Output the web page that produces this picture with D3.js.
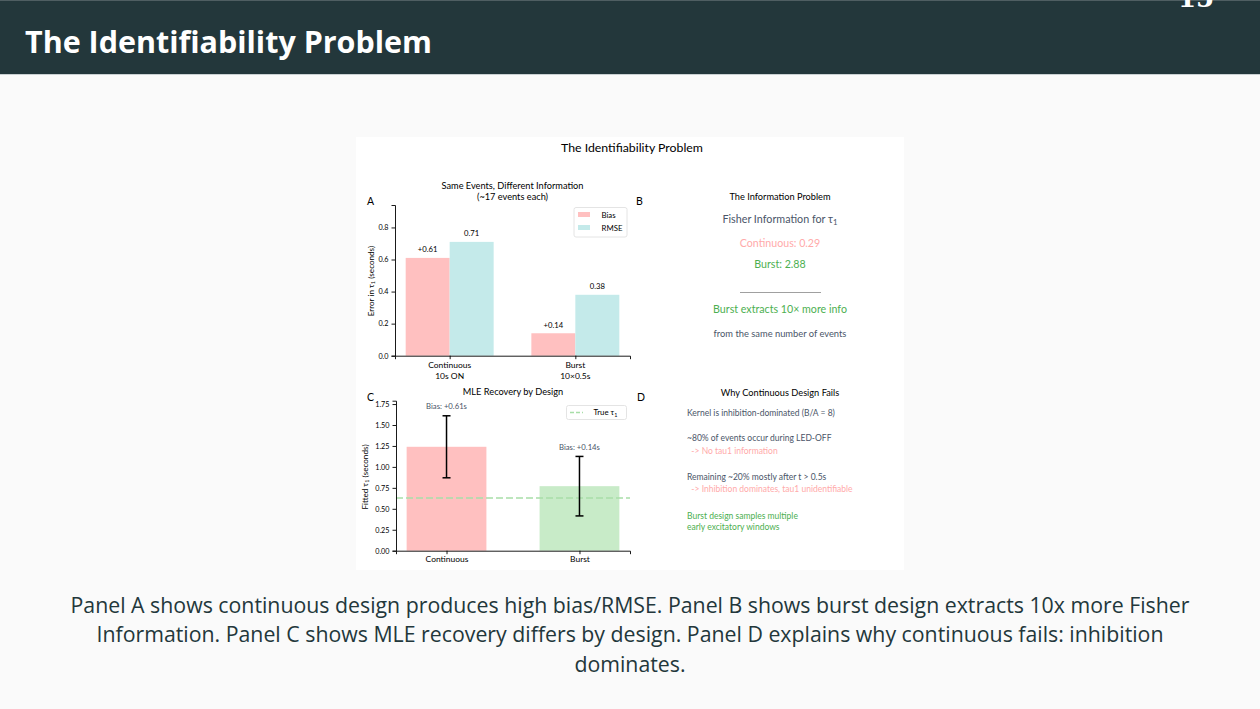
<!DOCTYPE html>
<html><head><meta charset="utf-8">
<script src="https://cdn.jsdelivr.net/npm/d3@7"></script>
<style>
html,body{margin:0;padding:0;background:#fafafa;}
svg{display:block;}
</style></head>
<body>
<svg id="c" width="1260" height="709"></svg>
<script>
// ---------------- data ----------------
const slideTitle = "The Identifiability Problem";
const pageNumber = "15";
const captionLines = [
  "Panel A shows continuous design produces high bias/RMSE. Panel B shows burst design extracts 10x more Fisher",
  "Information. Panel C shows MLE recovery differs by design. Panel D explains why continuous fails: inhibition",
  "dominates."
];
const figTitle = "The Identifiability Problem";

// Panel A
const categoriesA = [["Continuous", "10s ON"], ["Burst", "10×0.5s"]];
const biasValues = [0.61, 0.14];
const rmseValues = [0.71, 0.38];
const yTicksA = [0.0, 0.2, 0.4, 0.6, 0.8];
const seriesA = ["Bias", "RMSE"];

// Panel B
const fisherLabels = ["Continuous", "Burst"];
const fisherValues = [0.29, 2.88];

// Panel C
const categoriesC = ["Continuous", "Burst"];
const fittedMeans = [1.24, 0.77];
const fittedSD = [0.37, 0.355];
const trueTau = 0.63;
const yTicksC = [0.00, 0.25, 0.50, 0.75, 1.00, 1.25, 1.50, 1.75];

// Panel D
const reasonLines = [
  {t: "Kernel is inhibition-dominated (B/A = 8)", k: "text"},
  {t: "~80% of events occur during LED-OFF", k: "text"},
  {t: "  -> No tau1 information", k: "bad"},
  {t: "Remaining ~20% mostly after t > 0.5s", k: "text"},
  {t: "  -> Inhibition dominates, tau1 unidentifiable", k: "bad"},
  {t: "Burst design samples multiple", k: "good"},
  {t: "early excitatory windows", k: "good"}
];

// ---------------- styles ----------------
const C = {
  header: "#23373b", slideText: "#23373b", bg: "#fafafa",
  bias: "#ffc0c0", rmse: "#c4eaea", burst: "#c8ebc8", trueLine: "#a8dea8",
  textGray: "#4a5568", bad: "#ffaaaa", good: "#4caf50"
};
const FIG_FONT = "Lato, 'Open Sans', sans-serif";
const SLIDE_FONT = "'Open Sans', Lato, sans-serif";

const svg = d3.select("#c");

function fitWidth(sel, w) {
  const n = sel.node();
  const fs = parseFloat(sel.attr("font-size"));
  const cur = n.getComputedTextLength();
  if (cur > 0) sel.attr("font-size", fs * w / cur);
  return parseFloat(sel.attr("font-size"));
}
// measure font size needed for a string to reach width w
const meas = svg.append("text").attr("x", -1000).attr("y", -1000).attr("font-family", FIG_FONT);
function sizeFor(str, w, base) {
  meas.attr("font-size", base).text(str);
  const cur = meas.node().getComputedTextLength();
  return cur > 0 ? base * w / cur : base;
}

// ---------------- slide ----------------
svg.append("rect").attr("x", 0).attr("y", 0).attr("width", 1260).attr("height", 709).attr("fill", C.bg);
svg.append("rect").attr("x", 0).attr("y", 0).attr("width", 1260).attr("height", 75).attr("fill", C.header);
svg.append("rect").attr("x", 0).attr("y", 0).attr("width", 1260).attr("height", 1).attr("fill", "#4f5e62");
svg.append("rect").attr("x", 0).attr("y", 74).attr("width", 1260).attr("height", 1).attr("fill", "#c9d0d2");

const ht = svg.append("text").attr("x", 25).attr("y", 53).attr("fill", "#ffffff")
  .attr("font-family", SLIDE_FONT).attr("font-weight", 700).attr("font-size", 30).text(slideTitle);
fitWidth(ht, 407);

svg.append("text").attr("x", 1178).attr("y", 7).attr("fill", "#ffffff")
  .attr("font-family", "'DejaVu Serif', 'Liberation Serif', serif").attr("font-weight", 700)
  .attr("font-size", 26).text(pageNumber);

// caption
const cap0 = svg.append("text").attr("x", 630).attr("y", 613).attr("text-anchor", "middle")
  .attr("fill", C.slideText).attr("font-family", SLIDE_FONT).attr("font-size", 20).text(captionLines[0]);
const capFs = fitWidth(cap0, 1120);
captionLines.slice(1).forEach((t, i) => {
  svg.append("text").attr("x", 630).attr("y", 613 + 29.3 * (i + 1)).attr("text-anchor", "middle")
    .attr("fill", C.slideText).attr("font-family", SLIDE_FONT).attr("font-size", capFs).text(t);
});

// figure background
svg.append("rect").attr("x", 356).attr("y", 137).attr("width", 548).attr("height", 433).attr("fill", "#ffffff");

const fig = svg.append("g").attr("font-family", FIG_FONT).attr("fill", "#000");

// font sizes tuned to reference text widths
const FS = {
  sup: sizeFor(figTitle, 142, 11),
  sub: sizeFor("Same Events, Different Information", 142, 9),
  tick: sizeFor("1.75", 14.3, 8),
  xtick: sizeFor("Continuous", 43, 8),
  val: sizeFor("+0.61", 19.7, 7),
  ylab: sizeFor("Error in τ1 (seconds)", 72, 7),
  leg: sizeFor("RMSE", 21, 7),
  big: sizeFor("Fisher Information for τ1", 117, 10),
  mid: sizeFor("Burst extracts 10× more info", 134, 10),
  small: sizeFor("from the same number of events", 133, 8),
  d: sizeFor("Kernel is inhibition-dominated (B/A = 8)", 148, 8),
  bias: sizeFor("Bias: +0.61s", 41, 7),
  panel: 10.5
};

fig.append("text").attr("x", 632).attr("y", 152).attr("text-anchor", "middle").attr("font-size", FS.sup)
  .text(figTitle);

function styleAxis(g) {
  g.selectAll("path.domain").attr("stroke", "#000").attr("stroke-width", 0.9);
  g.selectAll(".tick line").attr("stroke", "#000").attr("stroke-width", 0.9);
  g.selectAll(".tick text").attr("font-family", FIG_FONT).attr("font-size", FS.tick).attr("fill", "#000");
}

// ---------------- Panel A ----------------
const xA = d3.scaleLinear().domain([-0.435, 1.435]).range([395, 630]);
const yA = d3.scaleLinear().domain([0, 0.94]).range([355.7, 205]);
const bwA = 0.35;
const gA = fig.append("g");

gA.selectAll("rect.bias").data(biasValues).enter().append("rect")
  .attr("x", (d, i) => xA(i - bwA)).attr("width", xA(bwA) - xA(0))
  .attr("y", d => yA(d)).attr("height", d => yA(0) - yA(d)).attr("fill", C.bias);
gA.selectAll("rect.rmse").data(rmseValues).enter().append("rect")
  .attr("x", (d, i) => xA(i)).attr("width", xA(bwA) - xA(0))
  .attr("y", d => yA(d)).attr("height", d => yA(0) - yA(d)).attr("fill", C.rmse);

gA.selectAll("text.bl").data(biasValues).enter().append("text")
  .attr("x", (d, i) => xA(i - bwA / 2)).attr("y", d => yA(d) - 5.5)
  .attr("text-anchor", "middle").attr("font-size", FS.val).text(d => "+" + d.toFixed(2));
gA.selectAll("text.rl").data(rmseValues).enter().append("text")
  .attr("x", (d, i) => xA(i + bwA / 2)).attr("y", d => yA(d) - 5.5)
  .attr("text-anchor", "middle").attr("font-size", FS.val).text(d => d.toFixed(2));

const axA_y = gA.append("g").attr("transform", `translate(${xA.range()[0]},0)`)
  .call(d3.axisLeft(yA).tickValues(yTicksA).tickFormat(d3.format(".1f")).tickSizeOuter(0).tickSize(3.5).tickPadding(3));
styleAxis(axA_y);
const axA_x = gA.append("g").attr("transform", `translate(0,${yA(0)})`)
  .call(d3.axisBottom(xA).tickValues([0, 1]).tickFormat("").tickSizeOuter(0).tickSize(3.5));
styleAxis(axA_x);
categoriesA.forEach((lines, i) => {
  lines.forEach((l, j) => {
    gA.append("text").attr("x", xA(i)).attr("y", yA(0) + 12.3 + j * 11.2).attr("text-anchor", "middle")
      .attr("font-size", FS.xtick).text(l);
  });
});

gA.append("text").attr("transform", `translate(373.5,281) rotate(-90)`).attr("text-anchor", "middle")
  .attr("font-size", FS.ylab).html(`Error in τ<tspan font-size='${FS.ylab*0.7}' dy='1.5'>1</tspan><tspan dy='-1.5'> (seconds)</tspan>`);

gA.append("text").attr("x", 512.5).attr("y", 189.3).attr("text-anchor", "middle").attr("font-size", FS.sub)
  .text("Same Events, Different Information");
gA.append("text").attr("x", 512.5).attr("y", 200.3).attr("text-anchor", "middle").attr("font-size", FS.sub)
  .text("(~17 events each)");
gA.append("text").attr("x", 367).attr("y", 205).attr("font-size", FS.panel).text("A");

// legend A
const lgA = gA.append("g");
lgA.append("rect").attr("x", 574).attr("y", 207.5).attr("width", 53).attr("height", 29.5).attr("rx", 2)
  .attr("fill", "#fff").attr("stroke", "#dddddd").attr("stroke-width", 0.8);
[C.bias, C.rmse].forEach((col, i) => {
  lgA.append("rect").attr("x", 578).attr("y", 212 + i * 13).attr("width", 12).attr("height", 5).attr("fill", col);
  lgA.append("text").attr("x", 601.5).attr("y", 217.8 + i * 13).attr("font-size", FS.leg).text(seriesA[i]);
});

// ---------------- Panel B ----------------
const gB = fig.append("g").attr("text-anchor", "middle");
const cxB = 780;
gB.append("text").attr("x", 636).attr("y", 205).attr("text-anchor", "start").attr("font-size", FS.panel).text("B");
gB.append("text").attr("x", cxB).attr("y", 200).attr("font-size", FS.sub).text("The Information Problem");
gB.append("text").attr("x", cxB).attr("y", 223).attr("font-size", FS.big).attr("fill", C.textGray)
  .html(`Fisher Information for τ<tspan font-size='${FS.big*0.72}' dy='2'>1</tspan>`);
gB.append("text").attr("x", cxB).attr("y", 246.5).attr("font-size", FS.mid).attr("fill", C.bad)
  .text(fisherLabels[0] + ": " + fisherValues[0].toFixed(2));
gB.append("text").attr("x", cxB).attr("y", 268).attr("font-size", FS.mid).attr("fill", C.good)
  .text(fisherLabels[1] + ": " + fisherValues[1].toFixed(2));
gB.append("line").attr("x1", 740).attr("x2", 821).attr("y1", 292.5).attr("y2", 292.5)
  .attr("stroke", "#888").attr("stroke-width", 0.8);
gB.append("text").attr("x", cxB).attr("y", 313).attr("font-size", FS.mid).attr("fill", C.good)
  .text("Burst extracts " + Math.round(fisherValues[1] / fisherValues[0]) + "× more info");
gB.append("text").attr("x", cxB).attr("y", 337).attr("font-size", FS.small).attr("fill", C.textGray)
  .text("from the same number of events");

// ---------------- Panel C ----------------
const xC = d3.scaleLinear().domain([-0.38, 1.38]).range([396, 630]);
const yC = d3.scaleLinear().domain([0, 1.79]).range([550.7, 400.7]);
const bwC = 0.6;
const gC = fig.append("g");
const colsC = [C.bias, C.burst];
gC.selectAll("rect.b").data(fittedMeans).enter().append("rect")
  .attr("x", (d, i) => xC(i - bwC / 2)).attr("width", xC(bwC) - xC(0))
  .attr("y", d => yC(d)).attr("height", d => yC(0) - yC(d)).attr("fill", (d, i) => colsC[i]);

gC.append("line").attr("x1", xC.range()[0]).attr("x2", xC.range()[1])
  .attr("y1", yC(trueTau)).attr("y2", yC(trueTau))
  .attr("stroke", C.trueLine).attr("stroke-width", 1.5).attr("stroke-dasharray", "7,3");

fittedMeans.forEach((m, i) => {
  const s = fittedSD[i];
  const cx = xC(i);
  gC.append("line").attr("x1", cx).attr("x2", cx).attr("y1", yC(m - s)).attr("y2", yC(m + s))
    .attr("stroke", "#000").attr("stroke-width", 1.5);
  [m - s, m + s].forEach(v => {
    gC.append("line").attr("x1", cx - 4).attr("x2", cx + 4).attr("y1", yC(v)).attr("y2", yC(v))
      .attr("stroke", "#000").attr("stroke-width", 1.5);
  });
  gC.append("text").attr("x", cx).attr("y", yC(m + s) - 6.5).attr("text-anchor", "middle")
    .attr("font-size", FS.bias).attr("fill", C.textGray)
    .text("Bias: +" + (m - trueTau).toFixed(2) + "s");
});

const axC_y = gC.append("g").attr("transform", `translate(${xC.range()[0]},0)`)
  .call(d3.axisLeft(yC).tickValues(yTicksC).tickFormat(d3.format(".2f")).tickSizeOuter(0).tickSize(3.5).tickPadding(3));
styleAxis(axC_y);
const axC_x = gC.append("g").attr("transform", `translate(0,${yC(0)})`)
  .call(d3.axisBottom(xC).tickValues([0, 1]).tickFormat((d, i) => categoriesC[i]).tickSizeOuter(0).tickSize(3.5).tickPadding(2));
styleAxis(axC_x);
axC_x.selectAll(".tick text").attr("font-size", FS.xtick);

gC.append("text").attr("transform", `translate(367.5,477) rotate(-90)`).attr("text-anchor", "middle")
  .attr("font-size", FS.ylab).html(`Fitted τ<tspan font-size='${FS.ylab*0.7}' dy='1.5'>1</tspan><tspan dy='-1.5'> (seconds)</tspan>`);
gC.append("text").attr("x", 513).attr("y", 395).attr("text-anchor", "middle").attr("font-size", FS.sub)
  .text("MLE Recovery by Design");
gC.append("text").attr("x", 367).attr("y", 401).attr("font-size", FS.panel).text("C");

const lgC = gC.append("g");
lgC.append("rect").attr("x", 566.5).attr("y", 405.5).attr("width", 60).attr("height", 14).attr("rx", 2)
  .attr("fill", "#fff").attr("stroke", "#dddddd").attr("stroke-width", 0.8);
lgC.append("line").attr("x1", 570).attr("x2", 583).attr("y1", 412.5).attr("y2", 412.5)
  .attr("stroke", C.trueLine).attr("stroke-width", 1.5).attr("stroke-dasharray", "4,2");
lgC.append("text").attr("x", 593.5).attr("y", 415.3).attr("font-size", FS.leg)
  .html(`True τ<tspan font-size='${FS.leg*0.7}' dy='1.5'>1</tspan>`);

// ---------------- Panel D ----------------
const gD = fig.append("g");
gD.append("text").attr("x", 637).attr("y", 401).attr("font-size", FS.panel).text("D");
gD.append("text").attr("x", 780).attr("y", 395.5).attr("text-anchor", "middle").attr("font-size", FS.sub)
  .text("Why Continuous Design Fails");
const yD = [413.3, 438.3, 451, 476.7, 489.3, 515.7, 526.7];
const colD = {text: C.textGray, bad: C.bad, good: C.good};
reasonLines.forEach((r, i) => {
  gD.append("text").attr("x", 687).attr("y", yD[i] + 2.8).attr("font-size", FS.d)
    .attr("fill", colD[r.k]).attr("xml:space", "preserve").style("white-space", "pre").text(r.t);
});
meas.remove();
</script>
</body></html>
